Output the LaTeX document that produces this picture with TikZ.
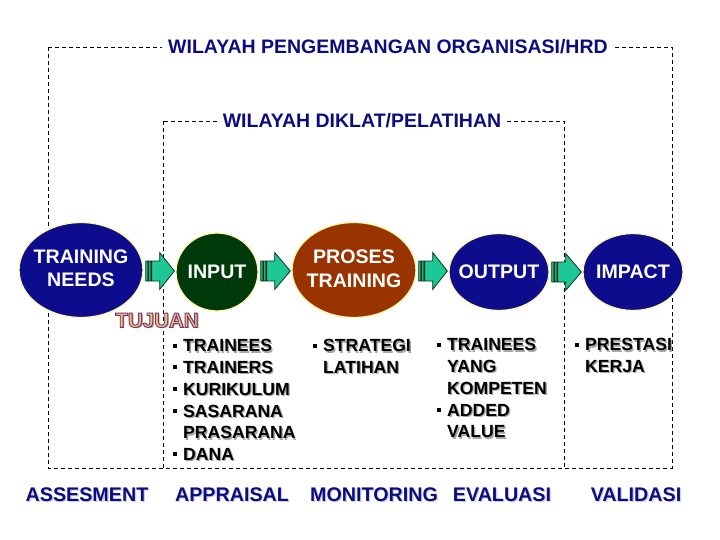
\documentclass[tikz,border=0pt]{standalone}
\usepackage{fontspec}
\setmainfont{Liberation Sans}
\usetikzlibrary{calc,shapes.geometric}
\definecolor{navyfill}{RGB}{12,12,140}
\definecolor{dgreen}{RGB}{0,58,10}
\definecolor{procbrown}{RGB}{153,51,0}
\definecolor{arrowteal}{RGB}{30,200,150}
\definecolor{arrowedge}{RGB}{10,50,20}
\definecolor{txtnavy}{RGB}{12,12,125}
\definecolor{glow}{RGB}{255,248,170}
\definecolor{worange}{RGB}{252,195,80}
\newcommand\shd[2][black!35]{\makebox[0pt][l]{\hspace{1.3pt}\raisebox{-1.3pt}{\textcolor{#1}{#2}}}#2}
\newcommand\bul{\makebox[10pt][l]{\rule[4.3pt]{4pt}{4pt}}}
\newcommand\wart[1]{%
 \makebox[0pt][l]{\hspace{1.3pt}\raisebox{-1.3pt}{\textcolor{black!40}{#1}}}%
 \textcolor{worange}{\special{pdf:literal direct 2 Tr 0.9 w 0.43 0.18 0.59 RG}#1\special{pdf:literal direct 0 Tr 0.4 w 0 0 0 RG}}}
\newcommand\blockarrow[2]{%
 \draw[blockarr] let \p1=(#1.east), \p2=(#2.west), \p3=($(#1.east)!0.5!(#2.west)$) in
  ({\x1+2pt},{\y3-10pt}) rectangle ({\x1+4pt},{\y3+10pt})
  ({\x1+5pt},{\y3-10pt}) rectangle ({\x1+7pt},{\y3+10pt})
  ({\x1+8pt},{\y3+10pt}) -- ({\x1+16pt},{\y3+10pt}) -- ({\x1+16pt},{\y3+18.5pt})
  -- ({\x2-1pt},{\y3}) -- ({\x1+16pt},{\y3-18.5pt}) -- ({\x1+16pt},{\y3-10pt})
  -- ({\x1+8pt},{\y3-10pt}) -- cycle;}
\tikzset{
 dbox/.style={draw=black, line width=0.8pt, dash pattern=on 4pt off 3pt},
 ttl/.style={fill=white, text=txtnavy, inner xsep=6pt, inner ysep=2pt, font=\fontsize{19.5}{23}\selectfont\bfseries},
 ell/.style={ellipse, draw=glow, line width=1.3pt, inner sep=0pt},
 elltext/.style={text=white, align=center, inner sep=0pt, font=\fontsize{19.6}{23.5}\selectfont\bfseries},
 blist/.style={align=left, inner sep=0pt, anchor=north west, font=\fontsize{17.6}{21.7}\selectfont\bfseries},
 bottomlbl/.style={text=txtnavy, inner sep=0pt, font=\fontsize{19.7}{23}\selectfont\bfseries},
 blockarr/.style={fill=arrowteal, draw=arrowedge, line width=0.8pt, line join=miter}
}
\begin{document}
\begin{tikzpicture}[x=1pt,y=-1pt]
\fill[white] (0,0) rectangle (720,540);
\useasboundingbox (0,0) rectangle (720,540);
% regions
\draw[dbox] (48,47) rectangle (672,468);
\draw[dbox] (163,121) rectangle (564,468);
\node[ttl] (hrd) at (388,47) {WILAYAH PENGEMBANGAN ORGANISASI/HRD};
\node[ttl] (diklat) at (362,121) {WILAYAH DIKLAT/PELATIHAN};
% ellipses
\node[ell, fill=navyfill, minimum width=124pt, minimum height=95pt] (tn) at (81,270) {};
\node[ell, fill=dgreen, minimum width=82pt, minimum height=78pt] (inp) at (217,272) {};
\node[ell, fill=procbrown, minimum width=124pt, minimum height=95pt] (pro) at (354,270) {};
\node[ell, fill=navyfill, minimum width=100pt, minimum height=77pt] (out) at (499,272) {};
\node[ell, fill=navyfill, minimum width=100pt, minimum height=77pt] (imp) at (633,272) {};
\node[elltext] (tnt) at (81,268.5) {TRAINING\\NEEDS};
\node[elltext] (inpt) at (217,272) {INPUT};
\node[elltext] (prot) at (354,269) {PROSES\\TRAINING};
\node[elltext] (outt) at (499,272) {OUTPUT};
\node[elltext] (impt) at (633,272) {IMPACT};
% arrows
\blockarrow{tn}{inp}
\blockarrow{inp}{pro}
\blockarrow{pro}{out}
\blockarrow{out}{imp}
% lists
\node[blist] (inlist) at (173,339.5) {\bul\shd{TRAINEES}\\\bul\shd{TRAINERS}\\\bul\shd{KURIKULUM}\\\bul\shd{SASARANA}\\\hspace*{10pt}\shd{PRASARANA}\\\bul\shd{DANA}};
\node[blist] (prolist) at (313,339.5) {\bul\shd{STRATEGI}\\\hspace*{10pt}\shd{LATIHAN}};
\node[blist] (outlist) at (437,338.5) {\bul\shd{TRAINEES}\\\hspace*{10pt}\shd{YANG}\\\hspace*{10pt}\shd{KOMPETEN}\\\bul\shd{ADDED}\\\hspace*{10pt}\shd{VALUE}};
\node[blist] (implist) at (575,338.5) {\bul\shd{PRESTASI}\\\hspace*{10pt}\shd{KERJA}};
% bottom labels
\node[bottomlbl] (ass) at (87,495) {\shd[navyfill!20]{ASSESMENT}};
\node[bottomlbl] (app) at (232,495) {\shd[navyfill!20]{APPRAISAL}};
\node[bottomlbl] (mon) at (374,495) {\shd[navyfill!20]{MONITORING}};
\node[bottomlbl] (eva) at (502,495) {\shd[navyfill!20]{EVALUASI}};
\node[bottomlbl] (val) at (636,495) {\shd[navyfill!20]{VALIDASI}};
% TUJUAN
\node[inner sep=0pt, font=\fontsize{20.5}{24}\selectfont\bfseries] (tujuan) at (157,321) {\wart{TUJUAN}};
\end{tikzpicture}
\end{document}
